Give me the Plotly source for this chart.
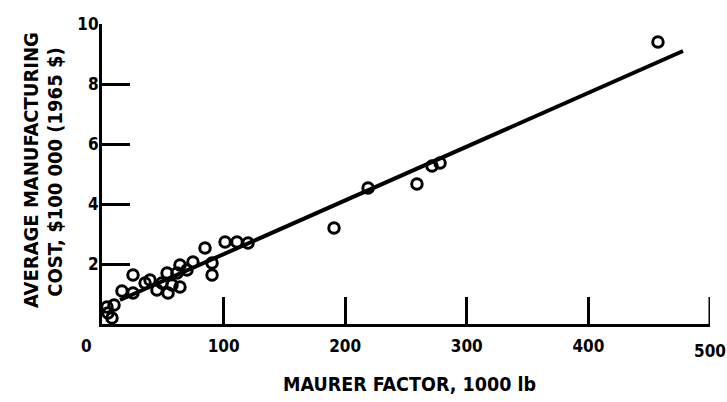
import plotly.graph_objects as go

# Data
maurer_factor = [4.1, 4.9, 8.2, 9.9, 16.4, 25.5, 25.5, 35.4, 39.5, 45.2, 49.3, 53.5, 54.3,
                 57.6, 61.7, 64.1, 64.1, 69.9, 74.8, 84.7, 90.5, 90.5, 101.2, 111.0, 120.1,
                 190.8, 218.8, 259.0, 271.4, 278.0, 457.2]
avg_cost = [0.57, 0.37, 0.20, 0.63, 1.10, 1.63, 1.03, 1.37, 1.47, 1.13, 1.37, 1.70, 1.03,
            1.30, 1.70, 1.23, 1.97, 1.80, 2.07, 2.53, 2.03, 1.63, 2.73, 2.73, 2.70,
            3.20, 4.53, 4.67, 5.27, 5.37, 9.40]

fit_x = [14.8, 477.8]
fit_y = [0.80, 9.10]

x_tick_vals = [100, 200, 300, 400, 500]
x_tick_text = ["100", "200", "300", "400", "500"]
y_tick_vals = [2, 4, 6, 8, 10]
y_tick_text = ["2", "4", "6", "8", "10"]

FONT = "DejaVu Sans Condensed, DejaVu Sans, sans-serif"
INK = "#000000"
TICK_SIZE = 17

fig = go.Figure()
fig.add_trace(go.Scatter(x=fit_x, y=fit_y, mode="lines",
                         line=dict(color=INK, width=4), showlegend=False,
                         cliponaxis=False, hoverinfo="skip"))
fig.add_trace(go.Scatter(x=maurer_factor, y=avg_cost, mode="markers",
                         marker=dict(symbol="circle-open", size=10.5,
                                     line=dict(color=INK, width=3), color=INK),
                         showlegend=False, cliponaxis=False))

tick_font = dict(size=TICK_SIZE, family=FONT, weight="bold", color=INK)

annotations = [
    dict(text="MAURER FACTOR, 1000 lb", xref="paper", yref="paper",
         x=0.505, y=-0.202, xanchor="center", yanchor="middle", showarrow=False,
         font=dict(size=19.5, family=FONT, weight="bold", color=INK)),
    dict(text="AVERAGE MANUFACTURING", xref="paper", yref="paper",
         x=-0.117, y=0.513, xanchor="center", yanchor="middle", showarrow=False,
         textangle=-90, font=dict(size=20, family=FONT, weight="bold", color=INK)),
    dict(text="COST, $100 000 (1965 $)", xref="paper", yref="paper",
         x=-0.0775, y=0.507, xanchor="center", yanchor="middle", showarrow=False,
         textangle=-90, font=dict(size=20, family=FONT, weight="bold", color=INK)),
    dict(text="0", xref="paper", yref="paper",
         x=-0.0247, y=-0.0733, xanchor="center", yanchor="middle", showarrow=False,
         font=tick_font),
]
# the last x tick label sits at the page edge; draw it as an annotation so it is not dropped
annotations.append(dict(text=x_tick_text[-1], xref="x", yref="paper",
                        x=x_tick_vals[-1], y=-0.09, xanchor="center", yanchor="middle",
                        showarrow=False, font=tick_font))

fig.update_layout(
    width=727, height=402,
    margin=dict(l=102, r=17, t=24, b=78),
    paper_bgcolor="white", plot_bgcolor="white",
    font=dict(family=FONT, color=INK),
    xaxis=dict(range=[0, 500], showgrid=False, zeroline=False,
               showline=True, linecolor=INK, linewidth=3,
               ticks="inside", ticklen=27, tickwidth=3, tickcolor=INK,
               tickvals=x_tick_vals[:-1], ticktext=x_tick_text[:-1],
               tickfont=tick_font, ticklabelstandoff=5),
    yaxis=dict(range=[0, 10], showgrid=False, zeroline=False,
               showline=True, linecolor=INK, linewidth=3,
               ticks="inside", ticklen=28, tickwidth=3, tickcolor=INK,
               tickvals=y_tick_vals, ticktext=y_tick_text,
               tickfont=tick_font, ticklabelstandoff=-3),
    shapes=[dict(type="line", xref="x", yref="paper", x0=500, x1=500, y0=0, y1=27 / 300,
                 line=dict(color=INK, width=3))],
    annotations=annotations,
)

fig.write_html("out.html", config={"displayModeBar": False},
               post_script="document.body.style.margin='0';document.body.style.padding='0';")
